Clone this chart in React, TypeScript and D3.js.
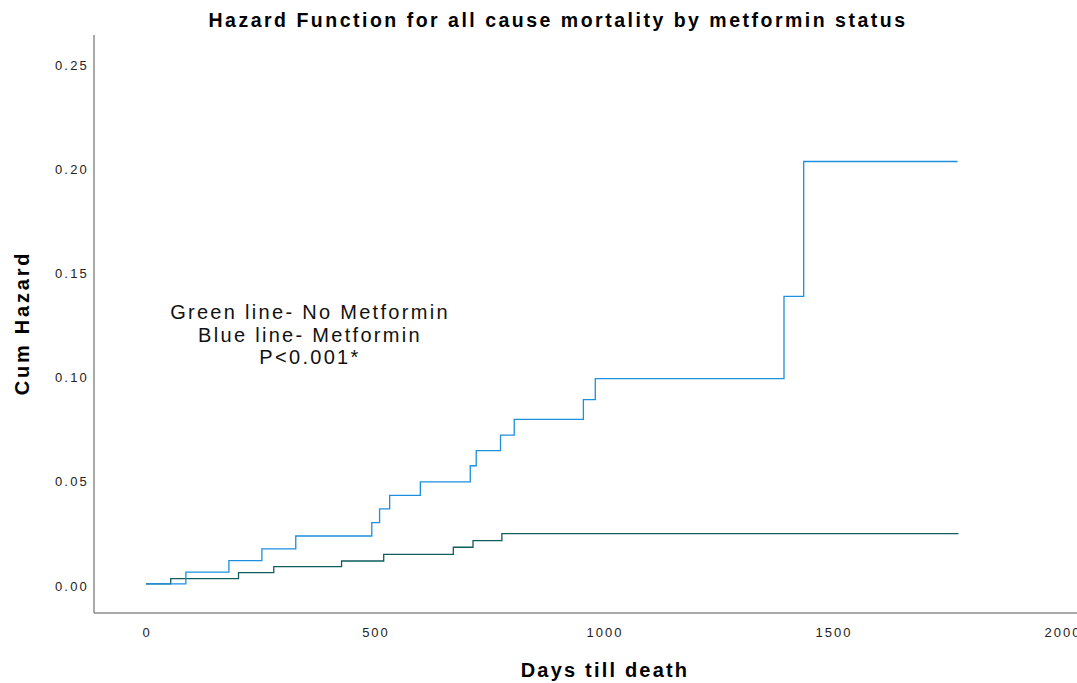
import React, { useEffect, useRef } from 'react';
import * as d3 from 'd3';

// step points (days, cumulative hazard)
const metforminDays = [0, 87, 181, 253, 327, 493, 510, 532, 599, 708, 721, 774, 804, 955, 981, 1393, 1436, 1772];
const metforminHazard = [0.001, 0.0067, 0.0122, 0.0178, 0.024, 0.0304, 0.037, 0.0435, 0.05, 0.0577, 0.065, 0.0724, 0.08, 0.0894, 0.0995, 0.139, 0.2037, 0.2037];

const noMetforminDays = [0, 54, 202, 279, 427, 519, 671, 714, 777, 1774];
const noMetforminHazard = [0.001, 0.0035, 0.0064, 0.0093, 0.012, 0.0152, 0.0186, 0.0218, 0.0251, 0.0251];

const xTicks = [0, 500, 1000, 1500, 2000];
const yTicks = [0, 0.05, 0.1, 0.15, 0.2, 0.25];
const noteLines = ['Green line- No Metformin', 'Blue line- Metformin', 'P<0.001*'];

const W = 1077;
const H = 683;
const FONT = '"Liberation Sans", Arial, sans-serif';

function App() {
  const ref = useRef<SVGSVGElement | null>(null);

  useEffect(() => {
    const svg = d3.select(ref.current);
    svg.selectAll('*').remove();

    const x = d3.scaleLinear().domain([0, 2000]).range([146, 1062]);
    const y = d3.scaleLinear().domain([0, 0.25]).range([586, 65]);

    // frame: only left and bottom lines
    svg.append('line')
      .attr('x1', 94).attr('x2', 94).attr('y1', 35).attr('y2', 613)
      .attr('stroke', '#555').attr('stroke-width', 1);
    svg.append('line')
      .attr('x1', 94).attr('x2', W).attr('y1', 613).attr('y2', 613)
      .attr('stroke', '#555').attr('stroke-width', 1);

    svg.append('g').selectAll('text')
      .data(yTicks).enter().append('text')
      .attr('x', 89).attr('y', d => y(d))
      .attr('dy', '0.35em')
      .attr('text-anchor', 'end')
      .style('font-family', FONT).style('font-size', '13px')
      .style('letter-spacing', '2.2px')
      .attr('fill', '#222')
      .text(d => d3.format('.2f')(d));

    svg.append('g').selectAll('text')
      .data(xTicks).enter().append('text')
      .attr('x', d => x(d) + 1).attr('y', 632)
      .attr('dy', '0.35em')
      .attr('text-anchor', 'middle')
      .style('font-family', FONT).style('font-size', '13px')
      .style('letter-spacing', '2px')
      .attr('fill', '#222')
      .text(d => String(d));

    const line = d3.line<number>()
      .x((d, i) => x(d))
      .curve(d3.curveStepAfter);

    const series = [
      { days: noMetforminDays, hz: noMetforminHazard, color: '#0d5e5c' },
      { days: metforminDays, hz: metforminHazard, color: '#1c8fe0' },
    ];
    series.forEach(s => {
      svg.append('path')
        .datum(s.days)
        .attr('d', line.y((d, i) => y(s.hz[i])))
        .attr('fill', 'none')
        .attr('stroke', s.color)
        .attr('stroke-width', 1.3);
    });

    svg.append('text')
      .attr('x', 558).attr('y', 27)
      .attr('text-anchor', 'middle')
      .style('font-family', FONT).style('font-size', '19.5px')
      .style('font-weight', 'bold').style('letter-spacing', '2.5px')
      .text('Hazard Function for all cause mortality by metformin status');

    svg.append('text')
      .attr('x', 605).attr('y', 677)
      .attr('text-anchor', 'middle')
      .style('font-family', FONT).style('font-size', '20px')
      .style('font-weight', 'bold').style('letter-spacing', '2.2px')
      .text('Days till death');

    svg.append('text')
      .attr('transform', 'translate(29,323) rotate(-90)')
      .attr('text-anchor', 'middle')
      .style('font-family', FONT).style('font-size', '20px')
      .style('font-weight', 'bold').style('letter-spacing', '2.8px')
      .text('Cum Hazard');

    svg.append('g').selectAll('text')
      .data(noteLines).enter().append('text')
      .attr('x', 310).attr('y', (d, i) => 319 + i * 22.5)
      .attr('text-anchor', 'middle')
      .style('font-family', FONT).style('font-size', '20px')
      .style('letter-spacing', '2.3px')
      .attr('fill', '#111')
      .text(d => d);
  }, []);

  return (
    <svg ref={ref} width={W} height={H}
      style={{ position: 'absolute', left: 0, top: 0, background: '#fff' }} />
  );
}

export default App;
